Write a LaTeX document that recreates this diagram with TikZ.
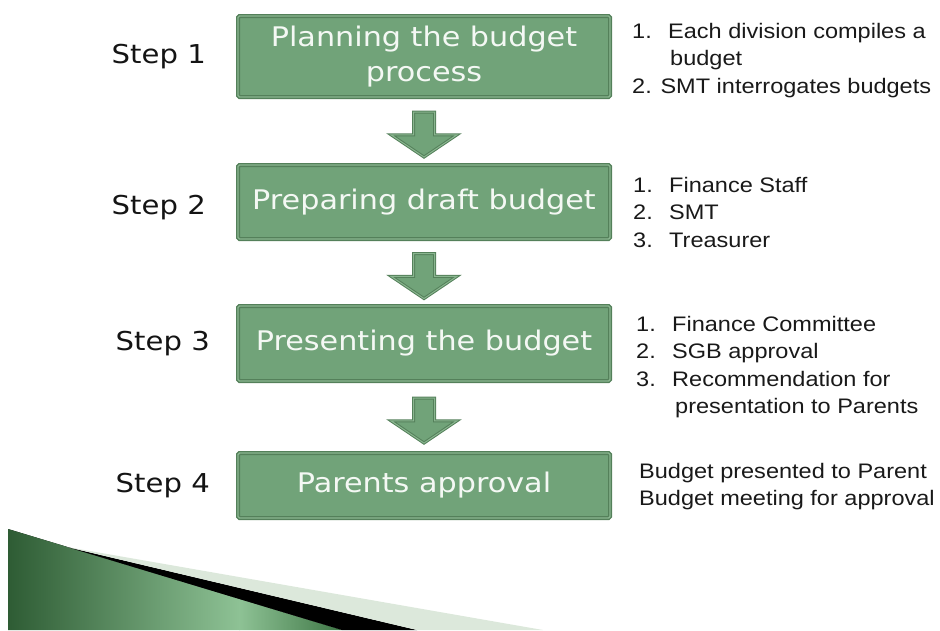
\documentclass[tikz,border=0pt]{standalone}
\usepackage{fontspec}
\newfontfamily\boxfont{DejaVu Sans}[FakeStretch=1.12]
\newfontfamily\notefont{Liberation Sans}[FakeStretch=1.12]
\usetikzlibrary{shapes.arrows,positioning,calc}

\definecolor{boxfill}{HTML}{71A379}
\definecolor{boxline}{HTML}{54805A}
\definecolor{boxrim}{HTML}{8AB690}
\definecolor{boxtext}{HTML}{F4F8F4}
\definecolor{swdark}{HTML}{2E5C34}
\definecolor{swlight}{HTML}{8EC295}
\definecolor{swdarkb}{HTML}{3F7746}
\definecolor{swhatch}{HTML}{DCE8DB}

\tikzset{
  stepbox/.style={draw=boxline, line width=1.3pt, double=boxrim, double distance=1.4pt,
    fill=boxfill, rounded corners=1.5pt, minimum width=372pt, inner sep=0pt, outer sep=0pt,
    align=center, text=boxtext, font=\boxfont\fontsize{27}{35}\selectfont},
  steplabel/.style={inner sep=0pt, text=black!92, font=\boxfont\fontsize{26}{30}\selectfont},
  notes/.style={anchor=north west, inner sep=0pt, align=left, text=black!90,
    font=\notefont\fontsize{21}{27.5}\selectfont},
  flowarrow/.style={single arrow, draw=boxline, line width=1pt, double=boxrim, double distance=1pt,
    fill=boxfill, rotate=-90, inner xsep=0pt, inner ysep=10pt, minimum height=45pt,
    single arrow head extend=22.5pt, single arrow tip angle=112}
}
\newcommand{\num}[1]{\makebox[36pt][l]{#1}}

\begin{document}
\begin{tikzpicture}[x=1pt, y=-1pt]
    \useasboundingbox (0, 0) rectangle (940, 630);

    % boxes
    \node [stepbox, minimum height=81pt] (b1) at (424, 56.5) {Planning the budget\\process};
    \node [stepbox, minimum height=74pt, below=68pt of b1] (b2) {Preparing draft budget};
    \node [stepbox, minimum height=75pt, below=67pt of b2] (b3) {Presenting the budget};
    \node [stepbox, minimum height=65pt, below=72pt of b3] (b4) {Parents approval};

    % labels on the left
    \node [steplabel, left=32pt of b1] (s1) {Step 1};
    \node [steplabel, left=32pt of b2, yshift=-6pt] (s2) {Step 2};
    \node [steplabel, left=28pt of b3] (s3) {Step 3};
    \node [steplabel, left=28pt of b4] (s4) {Step 4};

    % arrows between the boxes
    \node [flowarrow] (a1) at ($(b1.south)!0.5!(b2.north)$) {};
    \node [flowarrow] (a2) at ($(b2.south)!0.5!(b3.north)$) {};
    \node [flowarrow] (a3) at ($(b3.south)!0.5!(b4.north)$) {};

    % notes on the right
    \node [notes] (n1) at ([xshift=22pt, yshift=-7pt]b1.north east)
        {\num{1.}Each division compiles a\\\hspace*{38pt}budget\\2. SMT interrogates budgets};
    \node [notes] (n2) at ([xshift=23pt, yshift=-12pt]b2.north east)
        {\num{1.}Finance Staff\\\num{2.}SMT\\\num{3.}Treasurer};
    \node [notes] (n3) at ([xshift=26pt, yshift=-10pt]b3.north east)
        {\num{1.}Finance Committee\\\num{2.}SGB approval\\\num{3.}Recommendation for\\\hspace*{39pt}presentation to Parents};
    \node [notes] (n4) at ([xshift=29pt, yshift=-10pt]b4.north east)
        {Budget presented to Parent\\Budget meeting for approval};

    % swoosh at the bottom
    \begin{scope}
        \clip (8, 529) -- (342, 630) -- (8, 630) -- cycle;
        \fill [left color=swdark, right color=swlight] (8, 529) rectangle (240, 630);
        \fill [left color=swlight, right color=swdarkb] (239, 529) rectangle (342, 630);
    \end{scope}
    \fill [black] (67, 547) -- (417, 630) -- (342, 630) -- cycle;
    \fill [swhatch] (67, 547) -- (543, 630) -- (417, 630) -- cycle;
\end{tikzpicture}
\end{document}
